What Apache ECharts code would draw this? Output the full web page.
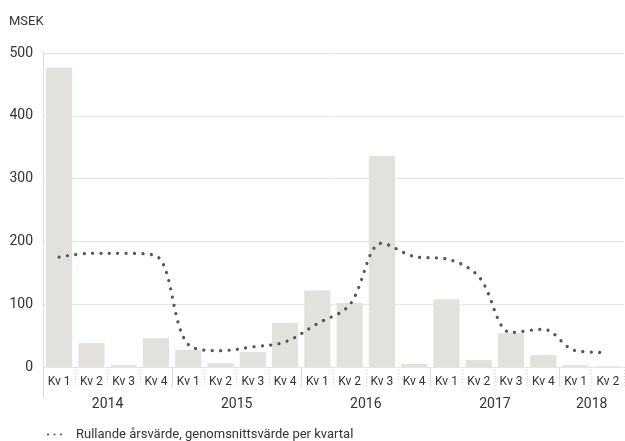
<!DOCTYPE html>
<html>
<head>
<meta charset="utf-8">
<script src="https://cdn.jsdelivr.net/npm/echarts@6/dist/echarts.min.js"></script>
<style>
  html, body { margin: 0; padding: 0; background: #fff; }
</style>
</head>
<body>
<div id="chart" style="width:625px;height:441px"></div>
<script>
// data
const quarters = ['Kv 1', 'Kv 2', 'Kv 3', 'Kv 4', 'Kv 1', 'Kv 2', 'Kv 3', 'Kv 4',
    'Kv 1', 'Kv 2', 'Kv 3', 'Kv 4', 'Kv 1', 'Kv 2', 'Kv 3', 'Kv 4', 'Kv 1', 'Kv 2'];
const years = ['2014', '2015', '2016', '2017', '2018'];
const quartersPerYear = [4, 4, 4, 4, 2];
const quarterValues = [477, 38, 3, 46, 27, 6, 24, 70, 122, 102, 336, 5, 108, 11, 54, 19, 3, 1];
const rollingValues = [175, 181, 181, 177, 36, 26, 32, 40, 69, 99, 197, 176, 172, 144, 55, 60, 26, 23];
const yTicks = [0, 100, 200, 300, 400, 500];

// year boundaries and centres on a 0..n scale
let yearStarts = [], yearCentres = [];
let pos = 0;
quartersPerYear.forEach(n => {
    yearStarts.push(pos);
    yearCentres.push(pos + n / 2);
    pos += n;
});

const textColor = '#333';
const font = 'Roboto';
// three dots for the legend
const dotsIcon = 'path://M0,1a1,1 0 1,0 2,0a1,1 0 1,0 -2,0M6,1a1,1 0 1,0 2,0a1,1 0 1,0 -2,0M12,1a1,1 0 1,0 2,0a1,1 0 1,0 -2,0';

const option = {
    animation: false,
    textStyle: { fontFamily: font },
    title: {
        text: 'MSEK',
        left: 4,
        top: 10,
        textStyle: { fontSize: 13, fontWeight: 'normal', color: textColor, fontFamily: font }
    },
    grid: { left: 43, right: 1, top: 53, bottom: 74 },
    legend: {
        left: 42,
        top: 423,
        itemWidth: 15,
        itemHeight: 3,
        textStyle: { fontSize: 13, color: textColor, fontFamily: font, padding: [0, 0, 0, 9] },
        data: [{ name: 'Rullande årsvärde, genomsnittsvärde per kvartal', icon: dotsIcon, itemStyle: { color: '#555' } }]
    },
    xAxis: [
        {
            type: 'category',
            data: quarters,
            axisLine: { show: false },
            axisTick: { show: true, interval: 0, length: 20, lineStyle: { color: '#d6d6d6', type: [1, 2] } },
            axisLabel: { interval: 0, color: textColor, fontSize: 12, margin: 9, fontFamily: font }
        },
        {
            type: 'value',
            min: 0,
            max: quarters.length,
            position: 'bottom',
            axisLine: { show: false },
            splitLine: { show: false },
            axisTick: { show: true, customValues: yearStarts.slice(1), length: 20, lineStyle: { color: '#dcdcdc' } },
            axisLabel: {
                customValues: yearCentres,
                color: textColor,
                fontSize: 14,
                margin: 30,
                fontFamily: font,
                formatter: v => years[yearCentres.indexOf(v)] || ''
            }
        },
        {
            type: 'value',
            min: 0,
            max: quarters.length,
            position: 'bottom',
            axisLine: { show: false },
            splitLine: { show: false },
            axisLabel: { show: false },
            axisTick: { show: true, customValues: [0], length: 31, lineStyle: { color: '#dcdcdc' } }
        }
    ],
    yAxis: {
        type: 'value',
        min: yTicks[0],
        max: yTicks[yTicks.length - 1],
        interval: 100,
        axisLine: { show: true, lineStyle: { color: '#dcdcdc' } },
        axisTick: { show: false },
        splitLine: { lineStyle: { color: '#e6e6e6' } },
        axisLabel: { color: textColor, fontSize: 14, margin: 10, fontFamily: font }
    },
    series: [
        {
            name: 'Kvartal',
            type: 'bar',
            data: quarterValues,
            barCategoryGap: '19%',
            itemStyle: { color: '#e2e1de' },
            z: 1
        },
        {
            name: 'Rullande årsvärde, genomsnittsvärde per kvartal',
            type: 'line',
            data: rollingValues,
            smooth: 0.35,
            symbol: 'none',
            lineStyle: { color: '#555', width: 3.2, type: [0.1, 8.3], cap: 'round' },
            itemStyle: { color: '#555' },
            z: 3
        }
    ]
};

const myChart = echarts.init(document.getElementById('chart'));
myChart.setOption(option);
</script>
</body>
</html>
